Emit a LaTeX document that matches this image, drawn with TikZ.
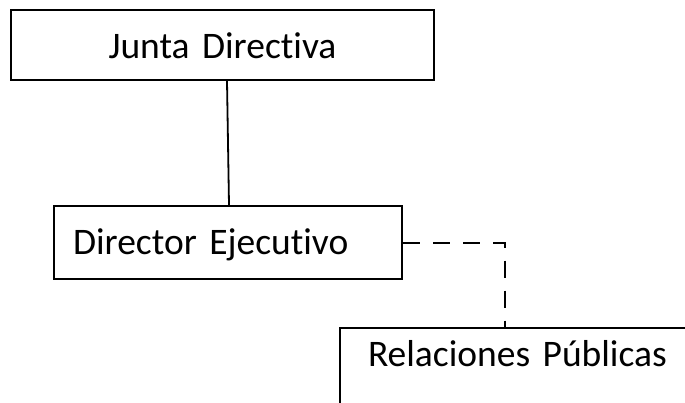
\documentclass[tikz,border=0pt]{standalone}
\usepackage{fontspec}
\setmainfont{Carlito}[RawFeature={-liga}, WordSpace=0.85]
\begin{document}
\begin{tikzpicture}[x=1pt,y=1pt,
  box/.style={draw=black, line width=2pt, inner ysep=0pt, font=\fontsize{37.5}{42}\selectfont},
  link/.style={draw=black, line width=1.8pt},
  dashlink/.style={draw=black, line width=2pt, dash pattern=on 17pt off 13pt}]
\useasboundingbox (0,0) rectangle (685,-402);
\clip (0,0) rectangle (685,-402);
\fill[white] (0,0) rectangle (685,-402);
\node[box, anchor=north west, text width=423pt, inner xsep=0pt, align=center,
      text height=48pt, text depth=22pt] (jd) at (10,-9) {Junta Directiva};
\node[box, anchor=north west, text width=310pt, inner xsep=19pt, align=left,
      text height=48pt, text depth=25pt] (de) at (53,-205) {Director Ejecutivo};
\node[box, anchor=north west, text width=340pt, inner xsep=28pt, align=left,
      text height=38pt, text depth=100pt] (rp) at (339,-327) {Relaciones Públicas};
\draw[link] ([xshift=4.5pt]jd.south) -- ([xshift=1pt]de.north);
\draw[dashlink] (de.east) -| ([xshift=166pt]rp.north west);
\end{tikzpicture}
\end{document}
